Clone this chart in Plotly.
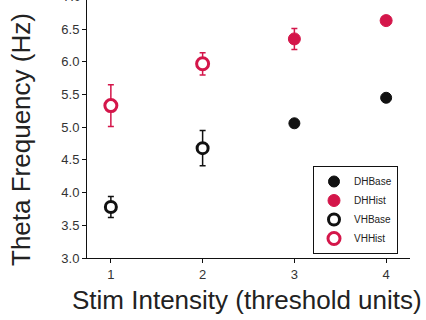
import plotly.graph_objects as go

# Theta frequency vs stimulation intensity, mean ± error
vh_base_x = [1, 2]
vh_base_y = [3.78, 4.68]
vh_base_err = [0.16, 0.27]

dh_base_x = [3, 4]
dh_base_y = [5.06, 5.45]
dh_base_err = [0.05, 0.04]

vh_hist_x = [1, 2]
vh_hist_y = [5.33, 5.97]
vh_hist_err = [0.32, 0.17]

dh_hist_x = [3, 4]
dh_hist_y = [6.35, 6.63]
dh_hist_err = [0.16, 0.04]

y_ticks = [3.0, 3.5, 4.0, 4.5, 5.0, 5.5, 6.0, 6.5]
x_ticks = [1, 2, 3, 4]

FONT = "Liberation Sans, Arial, sans-serif"
BLACK = "#111111"
RED = "#d4164a"

W, H = 426, 320
ML, MR, MT, MB = 87, 16, 0, 62
PW, PH = W - ML - MR, H - MT - MB


def px_x(p):
    """pixel column -> paper x"""
    return (p - ML) / PW


def px_y(p):
    """pixel row -> paper y"""
    return 1 - (p - MT) / PH


fig = go.Figure()


def err(vals, color):
    return dict(type="data", array=vals, visible=True, color=color,
                thickness=1.5, width=3)


fig.add_trace(go.Scatter(
    x=dh_base_x, y=dh_base_y, mode="markers", name="DHBase",
    error_y=err(dh_base_err, BLACK),
    marker=dict(symbol="circle", size=11, color=BLACK,
                line=dict(color=BLACK, width=1))))
fig.add_trace(go.Scatter(
    x=dh_hist_x, y=dh_hist_y, mode="markers", name="DHHist",
    error_y=err(dh_hist_err, RED),
    marker=dict(symbol="circle", size=12, color=RED,
                line=dict(color=RED, width=1))))
fig.add_trace(go.Scatter(
    x=vh_base_x, y=vh_base_y, mode="markers", name="VHBase",
    error_y=err(vh_base_err, BLACK),
    marker=dict(symbol="circle", size=11, color="white",
                line=dict(color=BLACK, width=3))))
fig.add_trace(go.Scatter(
    x=vh_hist_x, y=vh_hist_y, mode="markers", name="VHHist",
    error_y=err(vh_hist_err, RED),
    marker=dict(symbol="circle", size=12, color="white",
                line=dict(color=RED, width=3))))

axis_common = dict(
    showgrid=False, zeroline=False, showline=True, linecolor=BLACK,
    linewidth=1, ticks="outside", ticklen=4, tickcolor=BLACK,
    tickfont=dict(family=FONT, size=13, color="#333333"),
)

fig.update_xaxes(range=[0.74, 4.26], tickvals=x_ticks, **axis_common)
fig.update_yaxes(range=[3.0, 6.945], tickvals=y_ticks, tickformat=".1f",
                 **axis_common)

# tick label just above the plotted range, cut by the top edge
fig.add_annotation(x=0, xref="paper", y=px_y(-3.6), yref="paper", text="7.0",
                   showarrow=False, xanchor="right", yanchor="middle",
                   xshift=-4, font=dict(family=FONT, size=13, color="#333333"))

fig.add_annotation(x=px_x(21), xref="paper", y=px_y(140), yref="paper",
                   text="Theta Frequency (Hz)", showarrow=False,
                   xanchor="center", yanchor="middle", textangle=-90,
                   font=dict(family=FONT, size=26, color="#222222"))
fig.add_annotation(x=px_x(247), xref="paper", y=px_y(300), yref="paper",
                   text="Stim Intensity (threshold units)", showarrow=False,
                   xanchor="center", yanchor="middle",
                   font=dict(family=FONT, size=26, color="#222222"))

fig.update_layout(
    width=W, height=H,
    margin=dict(l=ML, r=MR, t=MT, b=MB),
    paper_bgcolor="white", plot_bgcolor="white",
    showlegend=True,
    legend=dict(x=px_x(313), y=px_y(166), xanchor="left", yanchor="top",
                bordercolor=BLACK, borderwidth=1, bgcolor="white",
                font=dict(family=FONT, size=10, color="#222222"),
                itemwidth=30, tracegroupgap=0),
)

fig.write_html("out.html")
